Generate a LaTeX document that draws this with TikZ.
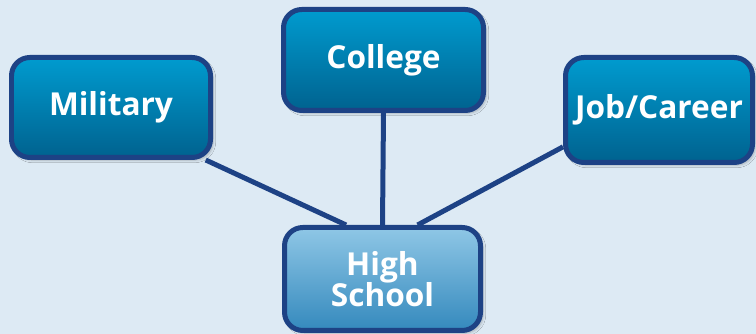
\documentclass[tikz,border=0pt]{standalone}
\usepackage{fontspec}
\setmainfont{Open Sans}
\usetikzlibrary{shadows.blur}
\definecolor{paneblue}{HTML}{DDEAF4}
\definecolor{edgeblue}{HTML}{1D4285}
\definecolor{choicetop}{HTML}{009BCF}
\definecolor{choicebot}{HTML}{00628F}
\definecolor{starttop}{HTML}{8FC7E6}
\definecolor{startbot}{HTML}{3489BD}
\begin{document}
\begin{tikzpicture}[
    choicebox/.style={draw=edgeblue, line width=0.15cm, rounded corners=0.55cm,
        top color=choicetop, bottom color=choicebot, text=white,
        font=\fontsize{27}{27}\selectfont\bfseries, align=center,
        inner sep=0pt, minimum width=#1, minimum height=3.0cm,
        blur shadow={shadow xshift=0.08cm, shadow yshift=-0.08cm, shadow blur steps=8, shadow opacity=25}},
    startbox/.style={choicebox=5.88cm, top color=starttop, bottom color=startbot, minimum height=3.09cm},
    link/.style={draw=edgeblue, line width=0.15cm}
  ]
  \useasboundingbox (0,0) rectangle (22.680000,10.020000);
  \fill [paneblue] (0,0) rectangle (22.680000,10.020000);

  % Drawing box Military
  \node [choicebox=5.97cm] (military) at (3.330000,6.795000) {Military};%

  % Drawing box College
  \node [choicebox=6.00cm, minimum height=3.03cm] (college) at (11.505000,8.220000) {College};%

  % Drawing box Job/Career
  \node [choicebox=5.61cm, minimum height=3.15cm] (job) at (19.770000,6.720000) {Job/Career};%

  % Drawing box High School
  \node [startbox] (high) at (11.475000,1.650000) {High\\School};%

  % Drawing links to High School
  \draw [link] (military.-29.5) -- (high.124.8);%
  \draw [link] (college.south) -- (high.north);%
  \draw [link] (job.201.6) -- (high.57.4);%
\end{tikzpicture}
\end{document}
